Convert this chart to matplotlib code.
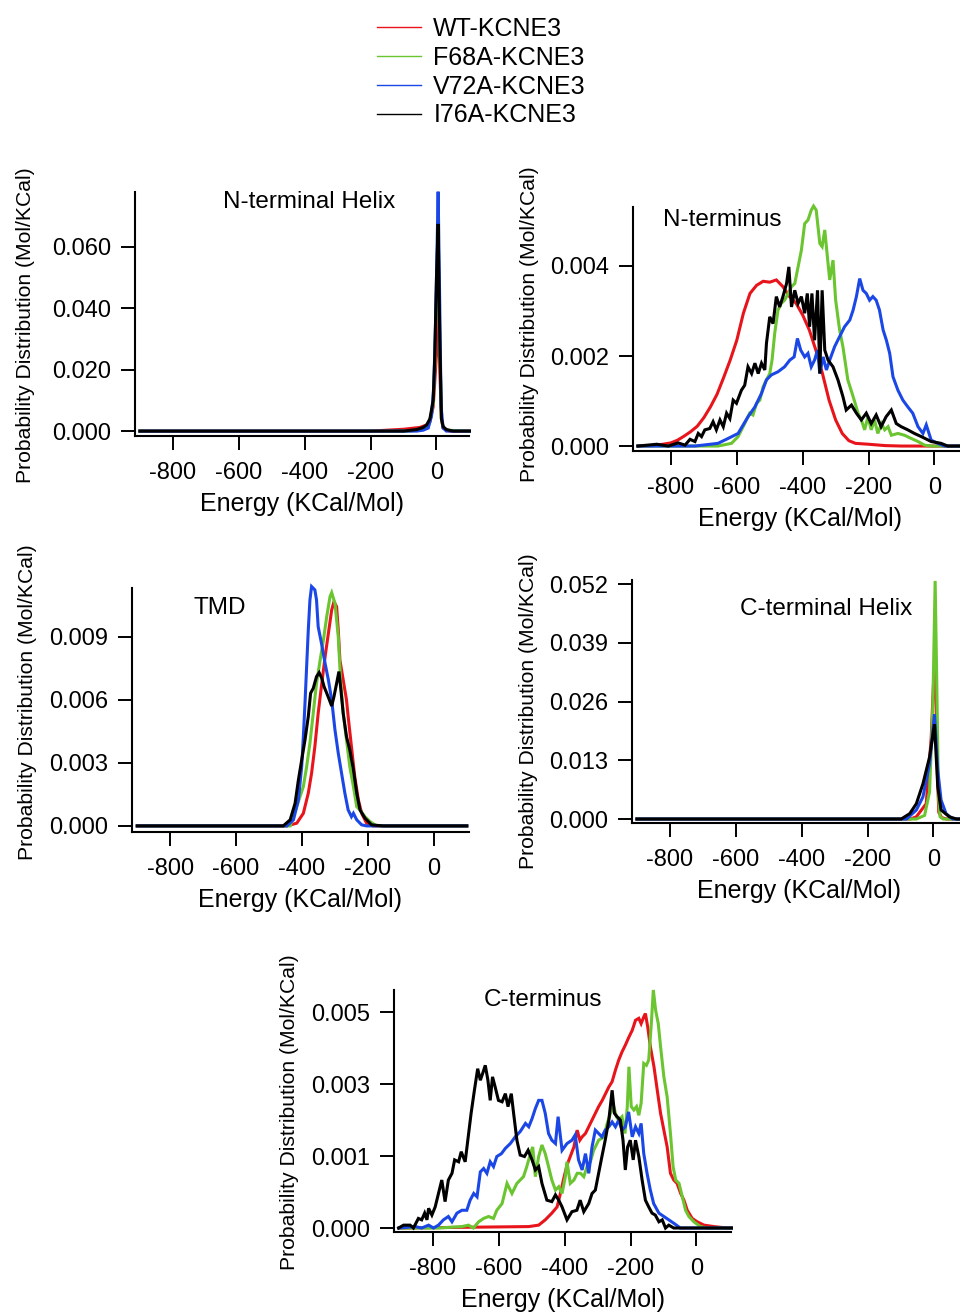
import matplotlib
matplotlib.use('Agg')
import matplotlib.pyplot as plt
from matplotlib.lines import Line2D

plt.rcParams['font.family'] = ['Liberation Sans', 'DejaVu Sans']
plt.rcParams['axes.unicode_minus'] = False

# 图例与颜色
labels = ['WT-KCNE3', 'F68A-KCNE3', 'V72A-KCNE3', 'I76A-KCNE3']
colors = ['#e8141b', '#6ac530', '#1a47e6', '#000000']

xticks = [-800, -600, -400, -200, 0]

# ---- N-terminal Helix ----
nhelix_x_wt = [-900, -200, -150, -100, -50, -30, -20, -10, 0, 5, 10, 15, 20, 40, 100]
nhelix_y_wt = [0, 0, 0.0003, 0.0006, 0.0012, 0.002, 0.003, 0.008, 0.025, 0.043, 0.02, 0.004, 0.001, 0, 0]
nhelix_x_f68a = [-900, -80, -50, -30, -20, -10, -5, 0, 5, 10, 15, 20, 30, 100]
nhelix_y_f68a = [0, 0, 0.0005, 0.0012, 0.0035, 0.009, 0.022, 0.045, 0.06, 0.028, 0.004, 0.0012, 0.0003, 0]
nhelix_x_v72a = [-900, -60, -40, -25, -15, -8, -3, 0, 5, 10, 14, 20, 30, 100]
nhelix_y_v72a = [0, 0, 0.0003, 0.001, 0.005, 0.015, 0.035, 0.05, 0.078, 0.04, 0.008, 0.001, 0, 0]
nhelix_x_i76a = [-900, -100, -60, -40, -30, -20, -10, -5, 0, 5, 10, 15, 20, 30, 50, 100]
nhelix_y_i76a = [0, 0, 0.0005, 0.0012, 0.002, 0.004, 0.01, 0.025, 0.05, 0.0675, 0.03, 0.004, 0.0015, 0.0005, 0, 0]

# ---- N-terminus ----
nterm_x_wt = [-900, -850, -800, -780, -760, -740, -720, -700, -680, -660, -640, -620, -600, -580,
              -560, -540, -520, -500, -480, -460, -440, -420, -400, -380, -360, -340, -320, -300,
              -280, -260, -240, -200, -150, -100, 100]
nterm_y_wt = [0, 0.00001, 0.00007, 0.00013, 0.00022, 0.00032, 0.00044, 0.00063, 0.00087, 0.00115,
              0.00152, 0.00191, 0.00235, 0.00295, 0.00339, 0.00357, 0.00366, 0.00364, 0.00369,
              0.00354, 0.00332, 0.00317, 0.00291, 0.00258, 0.00213, 0.00161, 0.00102, 0.00058,
              0.00028, 0.00012, 0.00006, 0.00004, 0.00001, 0, 0]
nterm_x_f68a = [-900, -657, -616, -596, -576, -561, -551, -540, -530, -520, -510, -500, -493, -485,
                -475, -465, -455, -444, -434, -424, -414, -404, -394, -384, -374, -367, -359, -348,
                -341, -333, -325, -318, -308, -300, -288, -278, -263, -247, -232, -222, -212, -202,
                -192, -182, -172, -161, -151, -141, -131, -111, -91, -71, -50, -30, -10, 100]
nterm_y_f68a = [0, 0, 0.00006, 0.00021, 0.0005, 0.00073, 0.00069, 0.00095, 0.00102, 0.00132,
                0.00147, 0.00161, 0.00191, 0.0025, 0.00302, 0.00317, 0.00324, 0.00339, 0.00354,
                0.00361, 0.00398, 0.00435, 0.00494, 0.00502, 0.00524, 0.00533, 0.00524, 0.0045,
                0.00443, 0.0048, 0.0042, 0.00369, 0.00413, 0.00324, 0.00258, 0.00221, 0.00147,
                0.0011, 0.00073, 0.00058, 0.00036, 0.00065, 0.00036, 0.00058, 0.00028, 0.0005,
                0.00036, 0.00043, 0.00024, 0.00028, 0.00024, 0.00017, 0.0001, 0.00002, 0, 0]
nterm_x_v72a = [-900, -727, -657, -626, -596, -566, -545, -535, -525, -510, -495, -475, -455, -439,
                -426, -416, -406, -394, -384, -374, -364, -355, -348, -338, -328, -318, -303, -288,
                -273, -257, -247, -237, -227, -217, -207, -197, -187, -177, -167, -156, -146, -136,
                -126, -111, -96, -81, -66, -50, -35, -25, -10, 10, 30, 100]
nterm_y_v72a = [0, 0, 0.00006, 0.00017, 0.00028, 0.00065, 0.00087, 0.00102, 0.00117, 0.00147,
                0.00158, 0.00165, 0.00176, 0.00191, 0.00198, 0.00239, 0.00213, 0.00198, 0.00206,
                0.00176, 0.00191, 0.00213, 0.00161, 0.00198, 0.00169, 0.00191, 0.00221, 0.00243,
                0.00265, 0.0028, 0.00302, 0.00332, 0.00372, 0.00346, 0.00339, 0.00324, 0.00332,
                0.00324, 0.00302, 0.00258, 0.00235, 0.00206, 0.00154, 0.00124, 0.00102, 0.00087,
                0.00073, 0.00043, 0.00028, 0.00047, 0.00013, 0.00006, 0, 0]
nterm_x_i76a = [-900, -843, -808, -778, -757, -742, -727, -717, -707, -697, -682, -672, -662, -651,
                -641, -631, -621, -611, -601, -586, -576, -566, -555, -545, -535, -525, -515, -510,
                -500, -490, -480, -470, -460, -449, -442, -434, -424, -414, -404, -394, -386, -379,
                -372, -364, -355, -348, -341, -333, -323, -308, -293, -278, -268, -252, -237, -222,
                -207, -192, -177, -162, -147, -131, -116, -101, -81, -61, -40, -10, 20, 40, 100]
nterm_y_i76a = [0, 0.00004, 0, 0.00007, 0.00002, 0.00015, 0.0001, 0.00028, 0.00021, 0.00036,
                0.00039, 0.00054, 0.00036, 0.00058, 0.00043, 0.00073, 0.00061, 0.00102, 0.00095,
                0.00124, 0.00135, 0.00176, 0.00161, 0.00184, 0.00161, 0.00184, 0.00169, 0.00228,
                0.00287, 0.00272, 0.00332, 0.00309, 0.00332, 0.00361, 0.00398, 0.00309, 0.00346,
                0.00317, 0.00332, 0.00295, 0.00339, 0.00265, 0.00339, 0.00235, 0.00346, 0.00161,
                0.00346, 0.00213, 0.00191, 0.00176, 0.00147, 0.0011, 0.0008, 0.00091, 0.00073,
                0.00058, 0.00073, 0.0005, 0.00069, 0.00043, 0.00065, 0.0008, 0.0005, 0.00043,
                0.00036, 0.00028, 0.00021, 0.0001, 0.00006, 0, 0]

# ---- TMD ----
tmd_x_wt = [-900, -446, -416, -396, -381, -371, -361, -351, -340, -330, -320, -310, -303, -295,
            -290, -285, -275, -265, -260, -250, -240, -229, -219, -204, -184, 100]
tmd_y_wt = [0, 0, 0.00013, 0.0006, 0.00156, 0.00251, 0.00378, 0.00536, 0.00679, 0.00806, 0.00917,
            0.01028, 0.01068, 0.01044, 0.00933, 0.0079, 0.00695, 0.006, 0.00521, 0.00378, 0.00235,
            0.00124, 0.0006, 0.00013, 0, 0]
tmd_x_f68a = [-900, -436, -416, -406, -396, -386, -376, -366, -356, -345, -335, -325, -315, -310,
              -300, -290, -283, -275, -265, -255, -244, -234, -224, -209, -194, -174, 100]
tmd_y_f68a = [0, 0, 0.00092, 0.0014, 0.00187, 0.00282, 0.00394, 0.00536, 0.00679, 0.0079, 0.00886,
              0.00997, 0.01092, 0.01111, 0.0106, 0.00901, 0.00695, 0.00536, 0.00409, 0.00282,
              0.00187, 0.00092, 0.00076, 0.00044, 0.00021, 0, 0]
tmd_x_v72a = [-900, -446, -426, -411, -401, -396, -391, -386, -381, -376, -371, -361, -356, -351,
              -341, -330, -320, -310, -300, -290, -280, -270, -260, -250, -244, -234, -219, -204, 100]
tmd_y_v72a = [0, 0, 0.00029, 0.00124, 0.00282, 0.00425, 0.00584, 0.00759, 0.00933, 0.01076, 0.0114,
              0.01124, 0.01076, 0.00949, 0.0087, 0.00774, 0.00695, 0.006, 0.00457, 0.00346, 0.00251,
              0.00156, 0.00076, 0.00044, 0.0006, 0.00029, 0.00005, 0, 0]
tmd_x_i76a = [-900, -457, -436, -421, -411, -401, -391, -381, -374, -366, -356, -348, -340, -333,
              -325, -317, -310, -303, -295, -288, -283, -275, -265, -255, -244, -234, -224, -209,
              -189, -154, 100]
tmd_y_i76a = [0, 0, 0.00029, 0.00108, 0.00219, 0.00314, 0.00409, 0.00521, 0.00632, 0.00655, 0.00711,
              0.0073, 0.00703, 0.00663, 0.00632, 0.006, 0.00571, 0.00616, 0.00679, 0.00735, 0.00663,
              0.00536, 0.00425, 0.00362, 0.00267, 0.00156, 0.00076, 0.00037, 0.00005, 0, 0]

# ---- C-terminal Helix ----
chelix_x_wt = [-900, -70, -52, -22, -7, 0, 5, 12, 16, 25, 40, 100]
chelix_y_wt = [0, 0, 0.0005, 0.0034, 0.018, 0.03, 0.0357, 0.01, 0.0015, 0.0003, 0, 0]
chelix_x_f68a = [-900, -52, -27, -12, -2, 5, 10, 15, 20, 30, 100]
chelix_y_f68a = [0, 0, 0.0008, 0.006, 0.025, 0.0527, 0.03, 0.005, 0.0005, 0, 0]
chelix_x_v72a = [-900, -82, -52, -32, -12, 3, 13, 23, 38, 58, 100]
chelix_y_v72a = [0, 0, 0.002, 0.0049, 0.0122, 0.0232, 0.0108, 0.0042, 0.0012, 0, 0]
chelix_x_i76a = [-900, -98, -72, -52, -32, -12, 3, 13, 23, 48, 70, 100]
chelix_y_i76a = [0, 0, 0.0012, 0.0034, 0.0078, 0.0137, 0.021, 0.0071, 0.002, 0.0005, 0, 0]

# ---- C-terminus ----
cterm_x_wt = [-900, -509, -479, -459, -439, -423, -413, -403, -393, -383, -372, -362, -354, -347,
              -337, -327, -317, -307, -297, -286, -276, -266, -256, -246, -236, -226, -216, -205,
              -195, -185, -175, -168, -160, -155, -148, -140, -129, -119, -109, -99, -89, -79, -69,
              -59, -48, -38, -28, -13, 2, 23, 53, 93, 106]
cterm_y_wt = [0, 0.00003, 0.00006, 0.00017, 0.00031, 0.00044, 0.00072, 0.00103, 0.00131, 0.00149,
              0.00169, 0.00204, 0.00183, 0.0019, 0.00197, 0.00211, 0.00225, 0.00239, 0.00253,
              0.00266, 0.0028, 0.00294, 0.00305, 0.00329, 0.0035, 0.00367, 0.00381, 0.00398,
              0.00412, 0.00433, 0.00437, 0.00426, 0.0044, 0.00447, 0.00419, 0.00378, 0.00336,
              0.00287, 0.00239, 0.00204, 0.00169, 0.00114, 0.001, 0.00093, 0.00072, 0.00058,
              0.00037, 0.0002, 0.00013, 0.00006, 0.00003, 0, 0]
cterm_x_f68a = [-900, -783, -712, -692, -677, -661, -646, -631, -616, -606, -590, -575, -560, -545,
                -535, -525, -515, -504, -497, -489, -479, -469, -459, -449, -439, -428, -418, -408,
                -398, -393, -383, -372, -362, -352, -342, -332, -322, -312, -297, -281, -271, -261,
                -251, -243, -236, -226, -217, -210, -205, -198, -190, -182, -175, -168, -160, -152,
                -145, -137, -131, -124, -116, -109, -99, -89, -79, -71, -63, -53, -43, -33, -23,
                -8, 12, 33, 106]
cterm_y_f68a = [0, 0, 0.00003, 0.00006, 0, 0.00013, 0.0002, 0.00024, 0.0002, 0.00037, 0.00051,
                0.00093, 0.00072, 0.00093, 0.001, 0.00107, 0.00128, 0.00155, 0.00169, 0.00107,
                0.00149, 0.00173, 0.00155, 0.00128, 0.001, 0.00079, 0.00086, 0.00072, 0.00107,
                0.00138, 0.00093, 0.001, 0.00114, 0.00114, 0.00107, 0.00128, 0.00138, 0.00162,
                0.00183, 0.0019, 0.00218, 0.00239, 0.00253, 0.00232, 0.00225, 0.00232, 0.00197,
                0.00253, 0.00336, 0.00253, 0.00246, 0.00253, 0.00235, 0.0026, 0.00343, 0.00339,
                0.0035, 0.00426, 0.00496, 0.00454, 0.00426, 0.00378, 0.00315, 0.00273, 0.00197,
                0.00128, 0.001, 0.00093, 0.00065, 0.00037, 0.00024, 0.00013, 0.00003, 0, 0]
cterm_x_v72a = [-904, -854, -834, -813, -798, -783, -768, -753, -742, -727, -712, -697, -687, -676,
                -666, -656, -646, -636, -626, -616, -606, -592, -580, -565, -550, -535, -519, -509,
                -499, -489, -479, -469, -459, -449, -439, -428, -420, -408, -393, -378, -368, -358,
                -347, -337, -327, -317, -307, -297, -287, -277, -266, -256, -246, -236, -226, -216,
                -206, -195, -185, -175, -168, -160, -150, -140, -130, -114, -99, -84, -69, -49, 106]
cterm_y_v72a = [0, 0.00003, 0, 0.00006, 0, 0.00006, 0.00017, 0.00024, 0.00013, 0.00031, 0.00037,
                0.00037, 0.00058, 0.00072, 0.00065, 0.00117, 0.00124, 0.00114, 0.00138, 0.00128,
                0.00149, 0.00155, 0.00166, 0.00176, 0.0019, 0.00201, 0.00218, 0.00211, 0.00228,
                0.00249, 0.00266, 0.00266, 0.00239, 0.00197, 0.00183, 0.00176, 0.00232, 0.00162,
                0.00176, 0.00183, 0.00194, 0.00142, 0.00121, 0.00155, 0.00114, 0.00169, 0.00204,
                0.00197, 0.0019, 0.00204, 0.00211, 0.00221, 0.00211, 0.00225, 0.00204, 0.00211,
                0.00242, 0.0019, 0.00211, 0.00197, 0.00218, 0.00155, 0.00114, 0.00079, 0.00051,
                0.00031, 0.00024, 0.00017, 0.0001, 0, 0]
cterm_x_i76a = [-904, -889, -869, -859, -844, -834, -825, -818, -813, -803, -793, -783, -773, -763,
                -753, -742, -734, -722, -714, -702, -694, -684, -674, -664, -656, -649, -641, -633,
                -626, -619, -611, -601, -590, -580, -572, -562, -555, -545, -535, -522, -511, -499,
                -489, -479, -469, -454, -439, -428, -418, -408, -393, -378, -363, -353, -342, -327,
                -317, -307, -297, -287, -277, -266, -256, -249, -241, -231, -223, -216, -209, -201,
                -192, -185, -175, -165, -155, -145, -135, -125, -114, -104, -94, -84, -69, 106]
cterm_y_i76a = [0, 0.00006, 0.00006, 0, 0.0002, 0.00017, 0.00031, 0.00017, 0.00041, 0.00027,
                0.00044, 0.00072, 0.001, 0.00055, 0.001, 0.00114, 0.00142, 0.00138, 0.00159,
                0.00138, 0.00183, 0.00239, 0.00287, 0.00332, 0.00308, 0.00322, 0.00339, 0.00308,
                0.00266, 0.00315, 0.00294, 0.00266, 0.00263, 0.0028, 0.00253, 0.0028, 0.00239,
                0.00183, 0.00152, 0.00149, 0.00162, 0.00142, 0.00121, 0.00128, 0.00093, 0.00058,
                0.00055, 0.00069, 0.00058, 0.00044, 0.00017, 0.00034, 0.00037, 0.00058, 0.00034,
                0.00051, 0.00072, 0.00079, 0.00114, 0.00149, 0.00183, 0.00225, 0.00287, 0.00239,
                0.00232, 0.00225, 0.00183, 0.00121, 0.00169, 0.00183, 0.00142, 0.00183, 0.00149,
                0.001, 0.00058, 0.00044, 0.00031, 0.00027, 0.00013, 0.00017, 0, 0.00006, 0, 0]

# y轴刻度
nhelix_yticks = [0, 0.02, 0.04, 0.06]
nterm_yticks = [0, 0.002, 0.004]
tmd_yticks = [0, 0.003, 0.006, 0.009]
chelix_yticks = [0, 0.013, 0.026, 0.039, 0.052]
cterm_yticks = [0, 0.0015, 0.003, 0.0045]
cterm_yticklabels = ['0.000', '0.001', '0.003', '0.005']

W, H = 960, 1314
fig = plt.figure(figsize=(W / 100, H / 100), dpi=100)


def make_panel(left, top, bottom, xlim, ylim, series, yticks, title, title_pos,
               ylab_x, ylab_y, yticklabels=None):
    width = (xlim[1] - xlim[0]) * 0.3295
    ax = fig.add_axes([left / W, 1 - bottom / H, width / W, (bottom - top) / H])
    for (x, y), c in zip(series, colors):
        ax.plot(x, y, color=c, lw=2.2, clip_on=False, solid_joinstyle='miter')
    ax.set_xlim(*xlim)
    ax.set_ylim(*ylim)
    for s in ['top', 'right']:
        ax.spines[s].set_visible(False)
    for s in ['left', 'bottom']:
        ax.spines[s].set_linewidth(1.5)
    ax.set_xticks(xticks)
    ax.set_xticklabels([str(v) for v in xticks])
    ax.set_yticks(yticks)
    if yticklabels is None:
        yticklabels = ['%.3f' % v for v in yticks]
    ax.set_yticklabels(yticklabels)
    ax.tick_params(axis='both', direction='out', length=10, width=1.4, labelsize=17, pad=7)
    ax.tick_params(axis='x', pad=9)
    ax.set_xlabel('Energy (KCal/Mol)', fontsize=18)
    ax.xaxis.set_label_coords(0.5, -68 / (bottom - top))
    ax.xaxis.label.set_va('center')
    ax.set_ylabel('Probability Distribution (Mol/KCal)', fontsize=15.2)
    ax.yaxis.set_label_coords(ylab_x, ylab_y)
    ax.yaxis.label.set_va('center')
    ax.text(title_pos[0], title_pos[1], title, transform=ax.transAxes, fontsize=17.5,
            ha='center', va='center')
    return ax


make_panel(135, 192, 436, (-915, 100), (-0.0016, 0.0779),
           [(nhelix_x_wt, nhelix_y_wt), (nhelix_x_f68a, nhelix_y_f68a),
            (nhelix_x_v72a, nhelix_y_v72a), (nhelix_x_i76a, nhelix_y_i76a)],
           nhelix_yticks, 'N-terminal Helix', (0.52, 0.96), -0.328, 0.455)

make_panel(633, 207, 451, (-915, 100), (-0.00011, 0.00531),
           [(nterm_x_wt, nterm_y_wt), (nterm_x_f68a, nterm_y_f68a),
            (nterm_x_v72a, nterm_y_v72a), (nterm_x_i76a, nterm_y_i76a)],
           nterm_yticks, 'N-terminus', (0.266, 0.947), -0.31, 0.52)

make_panel(132, 588, 832, (-916, 106), (-0.00029, 0.01133),
           [(tmd_x_wt, tmd_y_wt), (tmd_x_f68a, tmd_y_f68a),
            (tmd_x_v72a, tmd_y_v72a), (tmd_x_i76a, tmd_y_i76a)],
           tmd_yticks, 'TMD', (0.262, 0.918), -0.31, 0.53)

make_panel(632, 580, 823, (-915, 100), (-0.00088, 0.0529),
           [(chelix_x_wt, chelix_y_wt), (chelix_x_f68a, chelix_y_f68a),
            (chelix_x_v72a, chelix_y_v72a), (chelix_x_i76a, chelix_y_i76a)],
           chelix_yticks, 'C-terminal Helix', (0.579, 0.88), -0.31, 0.46)

make_panel(394, 990, 1232, (-918, 106), (-0.000083, 0.00496),
           [(cterm_x_wt, cterm_y_wt), (cterm_x_f68a, cterm_y_f68a),
            (cterm_x_v72a, cterm_y_v72a), (cterm_x_i76a, cterm_y_i76a)],
           cterm_yticks, 'C-terminus', (0.442, 0.959), -0.31, 0.496,
           yticklabels=cterm_yticklabels)

# 图例
handles = [Line2D([], [], color=c, lw=1.0) for c in colors]
fig.legend(handles, labels, loc='upper left', bbox_to_anchor=(377 / W, 1 - 17 / H),
           frameon=False, fontsize=18, borderpad=0, borderaxespad=0, handlelength=1.75,
           handletextpad=0.5, labelspacing=0.19)

fig.savefig('out.png', dpi=100)
